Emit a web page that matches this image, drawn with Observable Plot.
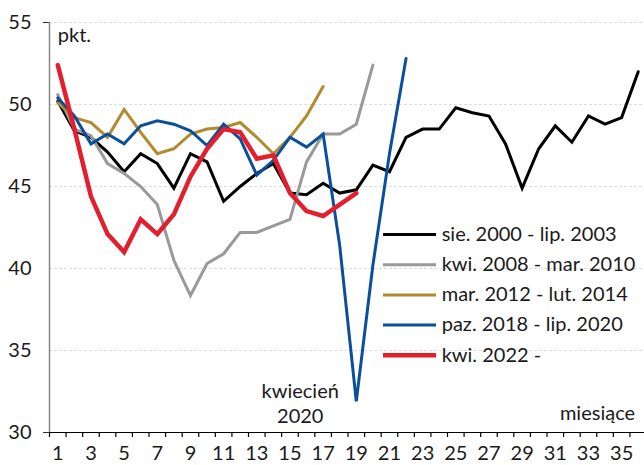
<!DOCTYPE html>
<html><head><meta charset="utf-8">
<script src="https://cdn.jsdelivr.net/npm/d3@7"></script>
<script src="https://cdn.jsdelivr.net/npm/@observablehq/plot@0.6"></script>
<style>body{margin:0;background:#fff} svg{display:block}</style>
</head><body><div id="chart"></div>
<script>
const seriesNames = ["sie. 2000 - lip. 2003","kwi. 2008 - mar. 2010","mar. 2012 - lut. 2014","paz. 2018 - lip. 2020","kwi. 2022 -"];
const seriesColors = ["#000000","#999999","#b38a2d","#0a4f9c","#e31e2d"];
const seriesWidths = [3, 3, 3, 3, 4.5];
const s2000 = [50.2,48.4,48.0,47.1,45.9,47.0,46.4,44.9,47.0,46.5,44.1,45.0,45.8,46.4,44.6,44.5,45.2,44.6,44.8,46.3,45.9,48.0,48.5,48.5,49.8,49.5,49.3,47.6,44.9,47.3,48.7,47.7,49.3,48.8,49.2,52.0];
const s2008 = [50.6,48.5,48.1,46.4,45.8,45.0,43.9,40.5,38.35,40.3,40.9,42.2,42.2,42.6,43.0,46.5,48.2,48.2,48.8,52.4];
const s2012 = [50.1,49.2,48.9,48.0,49.7,48.3,47.0,47.3,48.2,48.5,48.6,48.9,48.0,47.0,48.0,49.3,51.1];
const s2018 = [50.4,49.3,47.6,48.2,47.6,48.7,49.0,48.8,48.4,47.5,48.8,47.9,45.7,46.6,48.0,47.4,48.2,41.4,31.9,40.2,47.0,52.8];
const s2022 = [52.4,48.5,44.4,42.1,41.0,43.0,42.1,43.3,45.6,47.3,48.5,48.3,46.7,46.9,44.6,43.5,43.2,43.9,44.6];
const xTickLabels = [1,3,5,7,9,11,13,15,17,19,21,23,25,27,29,31,33,35];
const yTicks = [30,35,40,45,50,55];
const unitLabel = "pkt.";
const xTitle = "miesiące";
const note = "kwiecień\n2020";

const allSeries = [s2000,s2008,s2012,s2018,s2022];
const toRows = (arr) => arr.map((v,i)=>({m:i+1, v}));
const boundaries = d3.range(0.5, 37, 1);
const legendRows = seriesNames.map((name,i)=>({name, color: seriesColors[i], w: seriesWidths[i], y: 42.07 - i*1.84}));

const marks = [
  Plot.gridY(yTicks.filter(d=>d>30), {stroke:"#cfcfcf", strokeOpacity:0.7, strokeDasharray:"3,2", strokeWidth:1}),
  Plot.axisY(yTicks, {tickSize:0, tickPadding:18, fontSize:20, label:null}),
  Plot.axisY([30,55], {tickSize:6, text:null, stroke:"#333", label:null}),
  Plot.axisX(xTickLabels, {tickSize:0, tickPadding:13, fontSize:20, label:null}),
  Plot.axisX(boundaries, {tickSize:5, text:null, stroke:"#000", strokeWidth:1.2, label:null}),
  Plot.ruleX([0.5], {y1:30, y2:55, stroke:"#888", strokeWidth:1.5}),
  Plot.ruleY([30], {stroke:"#000", strokeWidth:1.2}),
];
allSeries.forEach((arr,k)=>{
  marks.push(Plot.line(toRows(arr), {x:"m", y:"v", stroke: seriesColors[k], strokeWidth: seriesWidths[k], strokeLinejoin:"miter", strokeMiterlimit:4}));
});
marks.push(
  Plot.ruleY(legendRows, {x1:20.64, x2:23.84, y:"y", stroke:"color", strokeWidth:"w"}),
  Plot.text(legendRows, {x:24.15, y:"y", text:"name", textAnchor:"start", fontSize:20, fill:"#1a1a1a"}),
  Plot.text([unitLabel], {x:1.0, y:54.2, text:d=>d, textAnchor:"start", fontSize:20, fill:"#1a1a1a"}),
  Plot.text([xTitle], {x:35.81, y:31.16, text:d=>d, textAnchor:"end", fontSize:20, fill:"#1a1a1a"}),
  Plot.text([note], {x:15.62, y:31.84, text:d=>d, textAnchor:"middle", lineHeight:1.25, fontSize:20, fill:"#1a1a1a"})
);

const chart = Plot.plot({
  width: 644, height: 465,
  marginLeft: 49, marginRight: -2, marginTop: 22, marginBottom: 33,
  x: {type:"linear", domain:[0.5, 36.5], label:null},
  y: {domain:[30,55], label:null},
  style: {fontFamily:"Lato, sans-serif", fontSize:"20px", color:"#1a1a1a", background:"#fff", overflow:"visible"},
  marks
});
document.getElementById("chart").appendChild(chart);
</script>
</body></html>
